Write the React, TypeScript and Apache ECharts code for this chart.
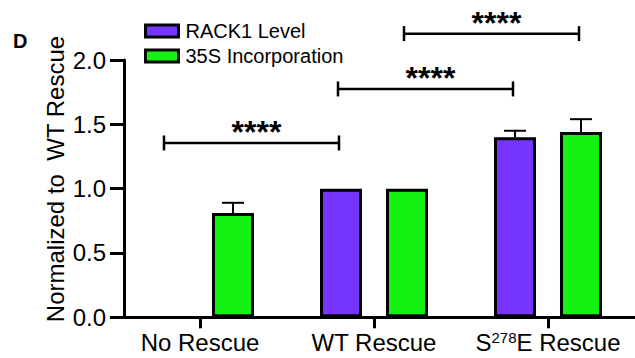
import React, { useEffect, useRef } from "react";
import * as echarts from "echarts";

const categories = ["No Rescue", "WT Rescue", "S278E Rescue"];
const seriesNames = ["RACK1 Level", "35S Incorporation"];
const rackLevel: (number | null)[] = [null, 1.0, 1.4];
const rackErrTop: (number | null)[] = [null, null, 1.45];
const s35Level: (number | null)[] = [0.81, 1.0, 1.44];
const s35ErrTop: (number | null)[] = [0.89, null, 1.54];
const yTicks = [0, 0.5, 1.0, 1.5, 2.0];

// significance brackets: from category/series to category/series at a level
const bracketFromCat = [0, 1, 1];
const bracketFromSeries = [0, 0, 1];
const bracketToCat = [1, 2, 2];
const bracketToSeries = [0, 0, 1];
const bracketLevel = [1.355, 1.775, 2.205];
const bracketLabel = ["****", "****", "****"];

const PURPLE = "#7636FF";
const GREEN = "#14F214";
const FONT = "'Liberation Sans', Arial, sans-serif";
const BAR_W = 42;
const BAR_GAP_PX = 24;
const SERIES_OFFSET = [-(BAR_W + BAR_GAP_PX) / 2, (BAR_W + BAR_GAP_PX) / 2];

export default function App() {
  const ref = useRef<HTMLDivElement>(null);
  useEffect(() => {
    if (!ref.current) return;
    const chart = echarts.init(ref.current, null, { renderer: "svg" });

    const errData = (vals: (number | null)[], tops: (number | null)[]) =>
      vals
        .map((v, i) => (v != null && tops[i] != null ? [i, v, tops[i]] : null))
        .filter((d) => d !== null) as number[][];

    const errorSeries = (si: number, vals: (number | null)[], tops: (number | null)[]) => ({
      type: "custom",
      silent: true,
      z: 1,
      data: errData(vals, tops),
      renderItem: (params: any, api: any) => {
        const base = api.coord([api.value(0), api.value(1)]);
        const top = api.coord([api.value(0), api.value(2)]);
        const x = base[0] + SERIES_OFFSET[si];
        return {
          type: "group",
          children: [
            { type: "line", shape: { x1: x, y1: base[1], x2: x, y2: top[1] }, style: { stroke: "#000", lineWidth: 2 } },
            { type: "line", shape: { x1: x - 11, y1: top[1], x2: x + 11, y2: top[1] }, style: { stroke: "#000", lineWidth: 2 } },
          ],
        };
      },
    });

    const bracketData = bracketLevel.map((lv, i) => [
      bracketFromCat[i],
      bracketFromSeries[i],
      bracketToCat[i],
      bracketToSeries[i],
      lv,
      i,
    ]);

    chart.setOption({
      animation: false,
      textStyle: { fontFamily: FONT },
      grid: { left: 113, right: -6, top: 60, bottom: 40.7, containLabel: false },
      legend: {
        data: seriesNames,
        orient: "vertical",
        left: 139,
        top: 16,
        icon: "rect",
        itemWidth: 33,
        itemHeight: 12,
        itemGap: 5,
        itemStyle: { borderColor: "#000", borderWidth: 3 },
        textStyle: { fontSize: 20, color: "#000", fontFamily: FONT, padding: [0, 0, 0, 2] },
      },
      xAxis: {
        type: "category",
        data: categories,
        axisLine: { show: true, lineStyle: { color: "#000", width: 3 } },
        axisTick: { show: true, alignWithLabel: true, interval: 0, length: 11, lineStyle: { color: "#000", width: 3 } },
        axisLabel: {
          interval: 0,
          color: "#000",
          fontSize: 24,
          margin: 13,
          fontFamily: FONT,
          formatter: (v: string) => (v === "S278E Rescue" ? "{n|S}{sup|278}{n|E Rescue}" : v),
          rich: {
            n: { fontSize: 24, color: "#000", fontFamily: FONT },
            sup: { fontSize: 15, color: "#000", fontFamily: FONT, verticalAlign: "top", padding: [0, 0, 10, 0] },
          },
        },
      },
      yAxis: {
        type: "value",
        min: yTicks[0],
        max: yTicks[yTicks.length - 1],
        interval: 0.5,
        offset: -11,
        splitLine: { show: false },
        axisLine: { show: true, lineStyle: { color: "#000", width: 3 } },
        axisTick: { show: true, length: 14, lineStyle: { color: "#000", width: 3 } },
        axisLabel: {
          color: "#000",
          fontSize: 24,
          margin: 18,
          fontFamily: FONT,
          formatter: (v: number) => v.toFixed(1),
        },
      },
      graphic: [
        {
          type: "text",
          left: 13,
          top: 31,
          style: { text: "D", fontSize: 20, fontWeight: "bold", fill: "#000", fontFamily: FONT },
        },
        {
          type: "text",
          x: 55,
          y: 179,
          rotation: Math.PI / 2,
          style: {
            text: "Normalized to  WT Rescue",
            fontSize: 24,
            fill: "#000",
            fontFamily: FONT,
            textAlign: "center",
            textVerticalAlign: "middle",
          },
        },
      ],
      series: [
        {
          name: seriesNames[0],
          type: "bar",
          data: rackLevel.map((v) => (v == null ? "-" : v)),
          barWidth: BAR_W,
          barGap: ((BAR_GAP_PX / BAR_W) * 100).toFixed(1) + "%",
          itemStyle: { color: PURPLE, borderColor: "#000", borderWidth: 3 },
          z: 2,
        },
        {
          name: seriesNames[1],
          type: "bar",
          data: s35Level.map((v) => (v == null ? "-" : v)),
          barWidth: BAR_W,
          barGap: ((BAR_GAP_PX / BAR_W) * 100).toFixed(1) + "%",
          itemStyle: { color: GREEN, borderColor: "#000", borderWidth: 3 },
          z: 2,
        },
        errorSeries(0, rackLevel, rackErrTop),
        errorSeries(1, s35Level, s35ErrTop),
        {
          type: "custom",
          silent: true,
          clip: false,
          z: 3,
          data: bracketData,
          renderItem: (params: any, api: any) => {
            const lv = api.value(4);
            const p1 = api.coord([api.value(0), lv]);
            const p2 = api.coord([api.value(2), lv]);
            const x1 = p1[0] + SERIES_OFFSET[api.value(1)] - 3;
            const x2 = p2[0] + SERIES_OFFSET[api.value(3)] - 2;
            const y = p1[1];
            const ls = { stroke: "#000", lineWidth: 2.5 };
            return {
              type: "group",
              children: [
                { type: "line", shape: { x1, y1: y, x2, y2: y }, style: ls },
                { type: "line", shape: { x1, y1: y - 7.5, x2: x1, y2: y + 7.5 }, style: ls },
                { type: "line", shape: { x1: x2, y1: y - 7.5, x2, y2: y + 7.5 }, style: ls },
                {
                  type: "text",
                  x: (x1 + x2) / 2 + 5,
                  y: y - 11,
                  style: {
                    text: bracketLabel[api.value(5)],
                    fontSize: 32,
                    fontWeight: "bold",
                    fill: "#000",
                    fontFamily: FONT,
                    textAlign: "center",
                    textVerticalAlign: "middle",
                  },
                },
              ],
            };
          },
        },
      ],
    });
    return () => chart.dispose();
  }, []);
  return <div ref={ref} style={{ width: 635, height: 358, position: "absolute", left: 0, top: 0 }} />;
}
